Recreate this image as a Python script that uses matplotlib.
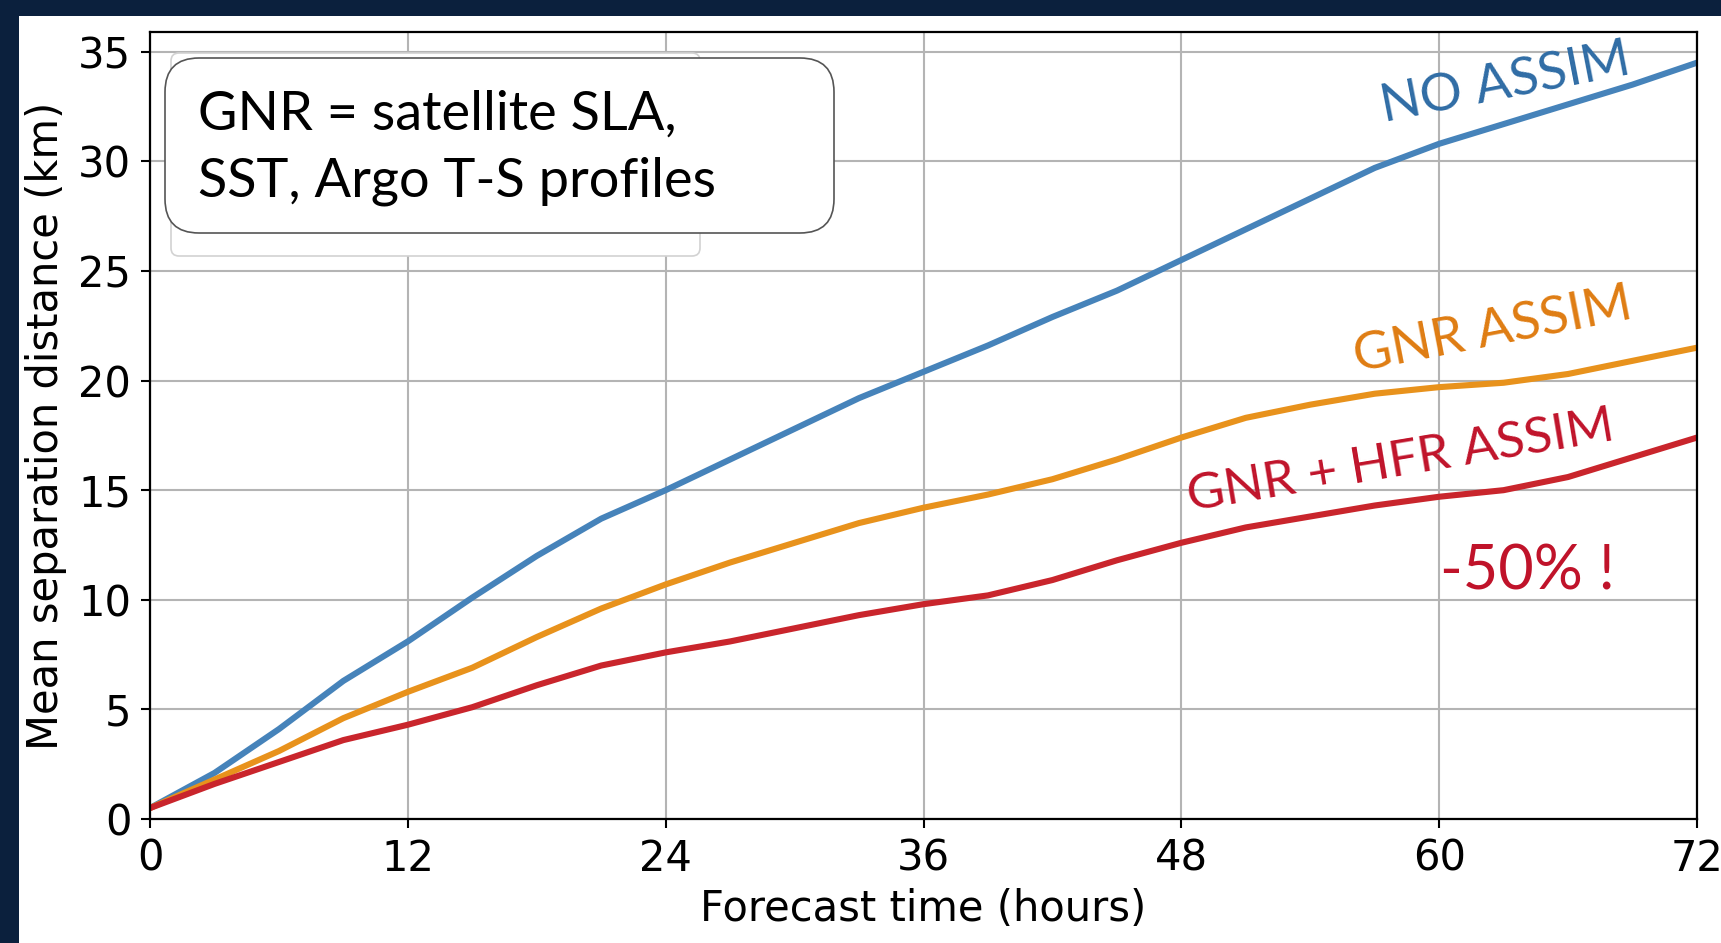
import matplotlib.pyplot as plt
from matplotlib.patches import FancyBboxPatch, Rectangle
from matplotlib.transforms import IdentityTransform

# forecast lead time (hours) and mean separation distance (km) for each run
hours = [0, 3, 6, 9, 12, 15, 18, 21, 24, 27, 30, 33, 36,
         39, 42, 45, 48, 51, 54, 57, 60, 63, 66, 69, 72]
no_assim = [0.5, 2.1, 4.1, 6.3, 8.1, 10.1, 12.0, 13.7, 15.0, 16.4, 17.8, 19.2, 20.4,
            21.6, 22.9, 24.1, 25.5, 26.9, 28.3, 29.7, 30.8, 31.7, 32.6, 33.5, 34.5]
gnr_assim = [0.5, 1.8, 3.1, 4.6, 5.8, 6.9, 8.3, 9.6, 10.7, 11.7, 12.6, 13.5, 14.2,
             14.8, 15.5, 16.4, 17.4, 18.3, 18.9, 19.4, 19.7, 19.9, 20.3, 20.9, 21.5]
gnr_hfr_assim = [0.5, 1.6, 2.6, 3.6, 4.3, 5.1, 6.1, 7.0, 7.6, 8.1, 8.7, 9.3, 9.8,
                 10.2, 10.9, 11.8, 12.6, 13.3, 13.8, 14.3, 14.7, 15.0, 15.6, 16.5, 17.4]

x_ticks = [0, 12, 24, 36, 48, 60, 72]
y_ticks = [0, 5, 10, 15, 20, 25, 30, 35]

W, H = 1721, 943
NAVY = '#0b203d'


def px(x, y):
    """pixel position (from top-left) -> figure fraction"""
    return x / W, 1 - y / H


def rounded_box(left, top, right, bottom, radius, **kw):
    """rounded rectangle given in pixels from the top-left corner"""
    return FancyBboxPatch((left, H - bottom), right - left, bottom - top,
                          boxstyle=f'round,pad=0,rounding_size={radius}',
                          transform=IdentityTransform(), **kw)


fig = plt.figure(figsize=(W / 100, H / 100), dpi=100)
fig.patch.set_facecolor('white')

# dark frame on the left and top edges
fig.patches.append(Rectangle((0, 0), 19 / W, 1, transform=fig.transFigure,
                             facecolor=NAVY, edgecolor='none'))
fig.patches.append(Rectangle((0, 1 - 16 / H), 1, 16 / H, transform=fig.transFigure,
                             facecolor=NAVY, edgecolor='none'))

ax = fig.add_axes([150 / W, 1 - 819 / H, (1697 - 150) / W, (819 - 32) / H])
ax.plot(hours, no_assim, color='#4683ba', lw=4.4, solid_capstyle='round')
ax.plot(hours, gnr_assim, color='#e8921c', lw=4.4, solid_capstyle='round')
ax.plot(hours, gnr_hfr_assim, color='#c9252c', lw=4.4, solid_capstyle='round')

ax.set_xlim(0, 72)
ax.set_ylim(0, 35.9)
ax.set_xticks(x_ticks)
ax.set_yticks(y_ticks)
ax.tick_params(labelsize=30, length=6.5, width=1.5, pad=7)
ax.grid(True, color='#b4b4b4', lw=1.5)
for s in ax.spines.values():
    s.set_linewidth(1.6)
ax.set_xlabel('Forecast time (hours)', fontsize=30, labelpad=6)
ax.set_ylabel('Mean separation distance (km)', fontsize=30, labelpad=8)

# faint legend frame left under the text box, then the text box itself
fig.patches.append(rounded_box(171, 53, 700, 256, 8, facecolor='white',
                               edgecolor='#d2d2d2', lw=1.2, zorder=3))
fig.patches.append(rounded_box(165, 58, 834, 233, 34, facecolor='white',
                               edgecolor='#555555', lw=1.2, zorder=4))
fig.text(*px(198, 90), 'GNR = satellite SLA,\nSST, Argo T-S profiles',
         fontsize=39, family='Lato', va='top', ha='left', linespacing=1.45, zorder=5)

# curve labels
fig.text(*px(1505, 84), 'NO ASSIM', fontsize=38, family='Lato', color='#2f6ca5',
         rotation=11, ha='center', va='center', rotation_mode='anchor')
fig.text(*px(1493, 331), 'GNR ASSIM', fontsize=38, family='Lato', color='#df7c12',
         rotation=11, ha='center', va='center', rotation_mode='anchor')
fig.text(*px(1401, 462), 'GNR + HFR ASSIM', fontsize=37, family='Lato', color='#c0132a',
         rotation=9.5, ha='center', va='center', rotation_mode='anchor')
fig.text(*px(1527, 572), '-50% !', fontsize=44, family='Lato', color='#c0132a',
         ha='center', va='center')

fig.savefig('out.png', dpi=100)
